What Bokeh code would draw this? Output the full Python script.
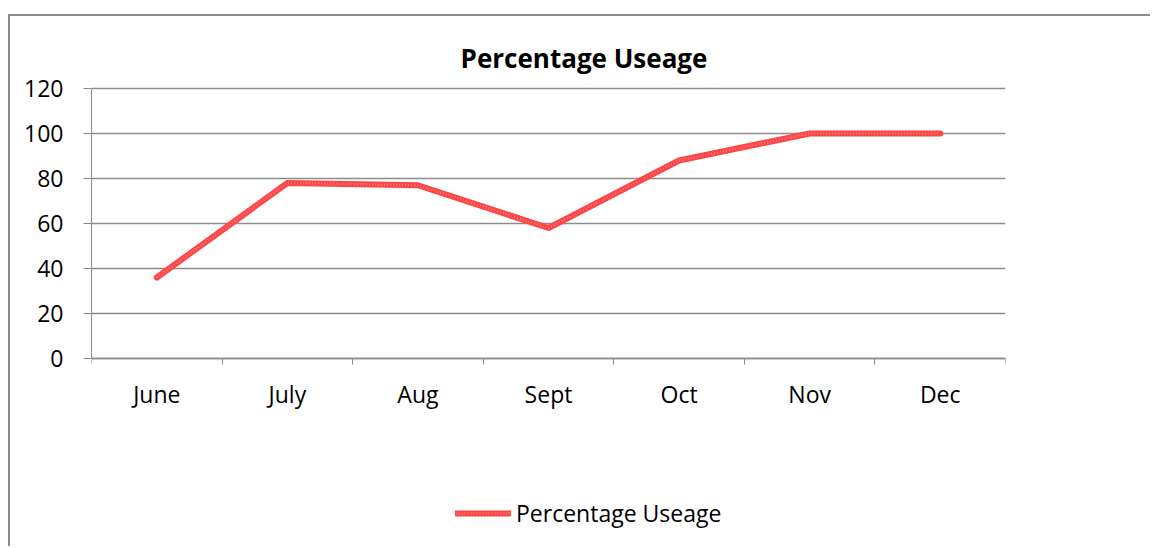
from bokeh.plotting import figure
from bokeh.models import (FixedTicker, Range1d, Legend, LegendItem, Label)
from bokeh.core.properties import value
from bokeh.embed import file_html
from bokeh.resources import INLINE

months = ["June", "July", "Aug", "Sept", "Oct", "Nov", "Dec"]
usage = [36, 78, 77, 58, 88, 100, 100]
y_ticks = [0, 20, 40, 60, 80, 100, 120]
title_text = "Percentage Useage"
series_name = "Percentage Useage"

FONT = "Open Sans"
GRAY = "#8c8c8c"

n = len(months)
xs = [i + 0.5 for i in range(n)]
ymax = y_ticks[-1]

# layout (pixels, relative to the canvas)
W, H = 1142, 532
B_LEFT, B_RIGHT, B_TOP, B_BOTTOM = 81, 147, 4, 8
AXIS_TOP_PX = 68      # from frame top down to the y=120 line
AXIS_H_PX = 270       # height of the 0..120 value band
ppu = AXIS_H_PX / ymax
frame_w = W - B_LEFT - B_RIGHT
frame_h = H - B_TOP - B_BOTTOM
y_end = ymax + AXIS_TOP_PX / ppu
y_start = y_end - frame_h / ppu

p = figure(width=W, height=H, output_backend="svg", toolbar_location=None,
           x_range=Range1d(0, n), y_range=Range1d(y_start, y_end),
           min_border_left=B_LEFT, min_border_right=B_RIGHT,
           min_border_top=B_TOP, min_border_bottom=B_BOTTOM)
p.styles = {"margin-left": "8px", "margin-top": "14px",
            "border-left": "2px solid #8c8c8c", "border-top": "2px solid #8c8c8c"}
p.outline_line_color = None
p.background_fill_color = "white"
p.border_fill_color = "white"

# y axis
p.yaxis.ticker = FixedTicker(ticks=y_ticks)
p.yaxis.bounds = (0, ymax)
p.yaxis.axis_line_color = GRAY
p.yaxis.major_tick_line_color = GRAY
p.yaxis.major_tick_in = 0
p.yaxis.major_tick_out = 8
p.yaxis.minor_tick_line_color = None
p.yaxis.major_label_text_font = FONT
p.yaxis.major_label_text_font_size = "23px"
p.yaxis.major_label_text_color = "black"
p.yaxis.major_label_standoff = 20
p.ygrid.ticker = FixedTicker(ticks=y_ticks)
p.ygrid.grid_line_color = GRAY
p.ygrid.grid_line_width = 1.3
p.xgrid.grid_line_color = None

# x axis at y=0: ticks at category boundaries
xa = p.xaxis[0]
xa.fixed_location = 0
xa.ticker = FixedTicker(ticks=list(range(n + 1)))
xa.major_label_overrides = {i: "" for i in range(n + 1)}
xa.axis_line_color = GRAY
xa.axis_line_width = 1.5
xa.major_tick_line_color = GRAY
xa.major_tick_in = 0
xa.major_tick_out = 6
xa.minor_tick_line_color = None
xa.major_label_standoff = 0

# category labels under the axis
p.text(x=xs, y=[0] * n, text=months, y_offset=35, text_align="center",
       text_baseline="middle", text_font=value(FONT), text_font_size="23px",
       text_color="black")

r1 = p.line(xs, usage, line_color="#ff4545", line_width=6, line_join="round",
            line_cap="round")
r2 = p.line(xs, usage, line_color="white", line_width=2, line_alpha=0.35,
            line_dash="1 2")

p.add_layout(Label(x=n / 2 + 35.5 / (frame_w / n), y=ymax + 31 / ppu,
                   text=title_text, text_font=FONT, text_font_size="26px",
                   text_font_style="bold", text_align="center",
                   text_baseline="middle", text_color="black"))

legend = Legend(items=[LegendItem(label=series_name, renderers=[r1, r2])],
                location=(364, 11), orientation="horizontal",
                padding=0, margin=0, border_line_color=None,
                background_fill_alpha=0, glyph_width=56, glyph_height=20,
                label_standoff=5, label_text_font=FONT,
                label_text_font_size="23px", label_text_color="black")
p.add_layout(legend, "center")

open("out.html", "w").write(file_html(p, INLINE))
